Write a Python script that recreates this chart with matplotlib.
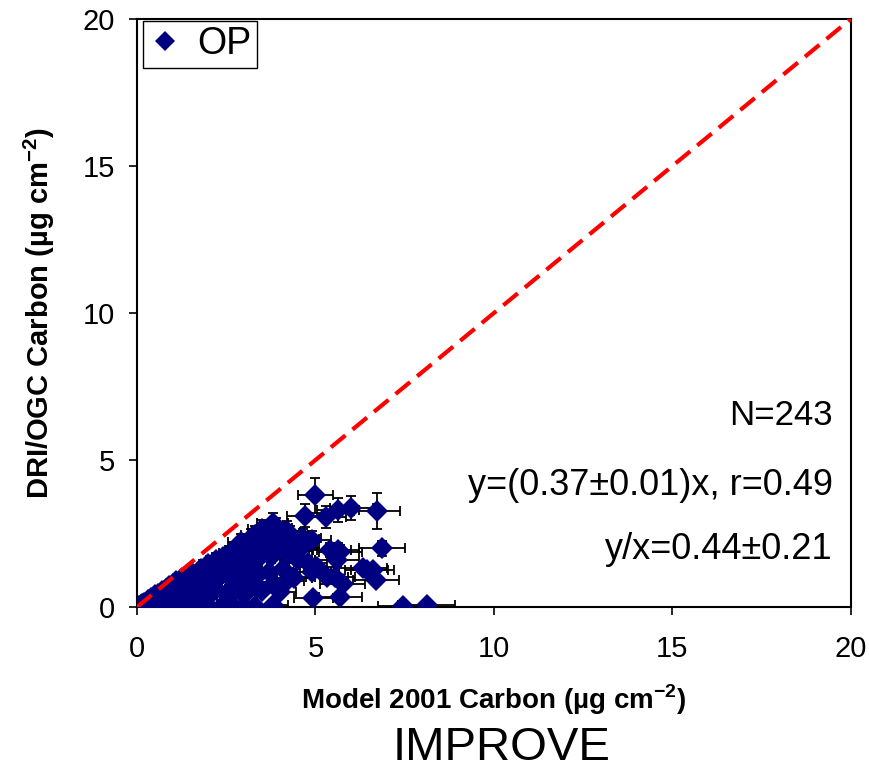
import matplotlib.pyplot as plt
import numpy as np

plt.rcParams['font.family'] = ['Liberation Sans', 'DejaVu Sans']
plt.rcParams['mathtext.fontset'] = 'custom'
plt.rcParams['mathtext.rm'] = 'Liberation Sans'
plt.rcParams['mathtext.bf'] = 'Liberation Sans:bold'

# OP carbon, DRI/OGC vs Model 2001
x = [0.05, 0.1, 0.15, 0.2, 0.3, 0.35, 0.4, 0.5, 0.55, 0.6, 0.7, 0.75, 0.8, 0.9, 0.95,
     1.0, 1.05, 1.1, 1.2, 1.25, 1.3, 1.4, 1.5, 1.55, 1.6, 1.7, 1.75, 1.8, 1.9, 1.95,
     2.0, 2.1, 2.15, 2.2, 2.3, 2.35, 2.4, 2.5, 2.55, 2.6, 2.7, 2.75, 2.8, 2.9, 2.95,
     3.0, 3.1, 3.15, 3.2, 3.3, 3.35, 3.4, 3.5, 3.6, 3.7, 3.75, 3.8, 3.9, 4.0, 4.1,
     4.2, 4.3, 4.4, 4.5, 4.6, 4.8, 4.9,
     1.2, 1.5, 1.8, 2.0, 2.2, 2.5, 2.8, 3.0, 3.2, 3.5, 3.8, 4.0, 4.2, 2.7, 3.0, 3.4,
     3.7, 4.1, 4.4,
     0.1, 0.3, 0.5, 0.8, 1.0, 1.45, 1.7, 2.0, 2.4, 2.7, 3.0, 3.3, 3.8,
     3.64, 3.8, 4.2, 4.43, 4.65, 4.9, 5.4, 5.6, 5.04, 5.32, 5.77, 6.33,
     5.0, 6.72, 6.0, 5.63, 5.3, 4.7, 6.86, 6.44, 6.6, 6.7, 5.69, 5.63, 5.55,
     4.94, 5.69, 7.46, 8.12,
     3.3, 3.5, 3.9, 4.1, 4.3, 4.6, 2.9, 3.2]
y = [0.03, 0.08, 0.1, 0.15, 0.25, 0.2, 0.3, 0.4, 0.3, 0.45, 0.55, 0.4, 0.6, 0.7, 0.5,
     0.8, 0.6, 0.9, 0.75, 1.0, 0.6, 1.05, 0.85, 1.15, 0.7, 1.2, 0.95, 1.3, 1.1, 0.8,
     1.45, 1.25, 0.95, 1.6, 1.4, 1.1, 1.7, 1.5, 1.2, 1.85, 1.6, 1.3, 1.95, 1.75, 1.4,
     2.05, 1.85, 1.5, 2.2, 1.9, 1.6, 2.3, 2.0, 2.5, 2.2, 1.7, 2.6, 2.35, 2.0, 2.55,
     1.8, 2.2, 1.9, 1.6, 2.0, 1.5, 1.2,
     0.35, 0.45, 0.5, 0.35, 0.6, 0.45, 0.6, 0.4, 0.7, 0.55, 0.8, 0.5, 0.9, 0.9, 1.0, 1.1,
     1.2, 1.3, 1.0,
     0.03, 0.05, 0.04, 0.05, 0.06, 0.05, 0.04, 0.05, 0.06, 0.05, 0.04, 0.05, 0.06,
     2.6, 2.85, 2.6, 1.94, 2.35, 2.28, 1.94, 1.6, 1.36, 1.03, 0.8, 1.33,
     3.8, 3.27, 3.37, 3.3, 3.07, 3.1, 2.0, 1.26, 1.26, 0.92, 1.87, 1.94, 1.03,
     0.3, 0.33, 0.03, 0.07,
     2.45, 2.65, 2.7, 2.4, 2.45, 2.3, 2.2, 2.35]
xerr = [0.02, 0.03, 0.04, 0.05, 0.06, 0.07, 0.08, 0.1, 0.1, 0.1, 0.12, 0.12, 0.13, 0.14, 0.14,
        0.15, 0.15, 0.16, 0.17, 0.18, 0.18, 0.19, 0.2, 0.2, 0.21, 0.22, 0.22, 0.23, 0.24, 0.24,
        0.25, 0.26, 0.26, 0.27, 0.28, 0.28, 0.29, 0.3, 0.3, 0.31, 0.32, 0.32, 0.33, 0.34, 0.34,
        0.35, 0.36, 0.36, 0.37, 0.38, 0.38, 0.39, 0.4, 0.41, 0.42, 0.42, 0.43, 0.44, 0.45, 0.46,
        0.47, 0.48, 0.49, 0.5, 0.51, 0.53, 0.54,
        0.17, 0.2, 0.23, 0.25, 0.27, 0.3, 0.33, 0.35, 0.37, 0.4, 0.43, 0.45, 0.47, 0.32, 0.35, 0.39,
        0.42, 0.46, 0.49,
        0.03, 0.06, 0.1, 0.13, 0.15, 0.2, 0.22, 0.25, 0.29, 0.32, 0.35, 0.38, 0.43,
        0.41, 0.43, 0.47, 0.49, 0.51, 0.54, 0.59, 0.61, 0.55, 0.58, 0.63, 0.68,
        0.5, 0.65, 0.6, 0.6, 0.55, 0.5, 0.65, 0.6, 0.6, 0.65, 0.6, 0.6, 0.55,
        0.55, 0.6, 0.7, 0.8,
        0.38, 0.4, 0.44, 0.46, 0.48, 0.51, 0.34, 0.37]
yerr = [0.02, 0.02, 0.03, 0.03, 0.04, 0.04, 0.05, 0.06, 0.05, 0.06, 0.07, 0.06, 0.08, 0.09, 0.07,
        0.1, 0.08, 0.11, 0.1, 0.12, 0.08, 0.13, 0.11, 0.14, 0.09, 0.15, 0.12, 0.16, 0.14, 0.1,
        0.18, 0.16, 0.12, 0.2, 0.18, 0.14, 0.21, 0.19, 0.15, 0.23, 0.2, 0.16, 0.24, 0.22, 0.18,
        0.25, 0.23, 0.19, 0.27, 0.24, 0.2, 0.28, 0.25, 0.3, 0.27, 0.21, 0.32, 0.29, 0.25, 0.31,
        0.23, 0.27, 0.24, 0.2, 0.25, 0.19, 0.15,
        0.05, 0.06, 0.07, 0.05, 0.08, 0.06, 0.08, 0.06, 0.09, 0.07, 0.1, 0.07, 0.12, 0.12, 0.13, 0.14,
        0.15, 0.16, 0.13,
        0.02, 0.02, 0.02, 0.02, 0.02, 0.02, 0.02, 0.02, 0.02, 0.02, 0.02, 0.02, 0.02,
        0.32, 0.35, 0.32, 0.25, 0.3, 0.29, 0.25, 0.2, 0.18, 0.14, 0.11, 0.17,
        0.6, 0.6, 0.42, 0.41, 0.38, 0.39, 0.25, 0.17, 0.17, 0.12, 0.24, 0.25, 0.14,
        0.05, 0.05, 0.02, 0.02,
        0.3, 0.32, 0.33, 0.3, 0.3, 0.28, 0.27, 0.29]

fig = plt.figure(figsize=(8.69, 7.73), dpi=100)
ax = fig.add_axes([0.1577, 0.2147, 0.8213, 0.7607])

ax.plot([0, 20], [0, 20], color='#ff0000', lw=3, dashes=(4.5, 2.2), zorder=4)
ax.errorbar(x, y, xerr=xerr, yerr=yerr, fmt='none', ecolor='black', elinewidth=1.3,
            capsize=3.5, capthick=1.3, zorder=2)
ax.plot(x, y, 'D', color='#000080', ms=11.5, mew=0, zorder=3, label='OP')

ax.set_xlim(0, 20)
ax.set_ylim(0, 20)
ax.set_xticks(np.arange(0, 21, 5))
ax.set_yticks(np.arange(0, 21, 5))
ax.tick_params(axis='both', labelsize=21, direction='out', length=6, width=1.2)
ax.tick_params(axis='x', pad=14)
ax.tick_params(axis='y', pad=10)
for s in ax.spines.values():
    s.set_linewidth(1.5)

ax.set_xlabel(r'Model 2001 Carbon (µg cm$^{\mathbf{-2}}$)', fontsize=20, fontweight='bold', labelpad=14)
ax.set_ylabel(r'DRI/OGC Carbon (µg cm$^{\mathbf{-2}}$)', fontsize=21, fontweight='bold', labelpad=18)

ax.text(0.975, 0.325, 'N=243', transform=ax.transAxes, ha='right', va='center', fontsize=25)
ax.text(0.975, 0.207, 'y=(0.37±0.01)x, r=0.49', transform=ax.transAxes, ha='right', va='center', fontsize=26)
ax.text(0.975, 0.097, 'y/x=0.44±0.21', transform=ax.transAxes, ha='right', va='center', fontsize=26)

leg = ax.legend(loc='upper left', bbox_to_anchor=(0.008, 0.997), fontsize=27, fancybox=False,
                edgecolor='black', framealpha=1, handlelength=0.9, handletextpad=0.4,
                borderpad=0.15, borderaxespad=0, markerscale=0.9)
leg.get_frame().set_linewidth(1.0)

fig.text(0.577, 0.032, 'IMPROVE', ha='center', va='center', fontsize=34)

fig.savefig('out.png', dpi=100)
